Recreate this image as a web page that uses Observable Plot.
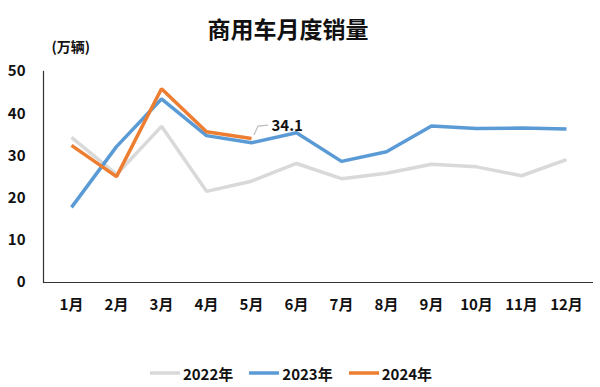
<!DOCTYPE html>
<html>
<head>
<meta charset="utf-8">
<script src="https://cdn.jsdelivr.net/npm/d3@7"></script>
<script src="https://cdn.jsdelivr.net/npm/@observablehq/plot@0.6"></script>
<style>
  html, body { margin: 0; padding: 0; background: #fff; }
  body { width: 600px; height: 387px; position: relative; overflow: hidden;
         font-family: "Noto Sans CJK SC", "Noto Sans", sans-serif; }
  #title { height: 35px; position: relative; }
  #title span { position: absolute; left: 0; width: 576px; top: 14px; text-align: center;
                font-weight: bold; font-size: 23px; line-height: 28px; color: #111; }
  #legend { position: absolute; left: 0; top: 362px; width: 582px; height: 22px;
            display: flex; justify-content: center; align-items: center;
            font-weight: bold; font-size: 15px; color: #111; }
  #legend .item { display: flex; align-items: center; margin: 0 8px; }
  #legend svg { margin-right: 3px; }
</style>
</head>
<body>
<div id="title"><span>商用车月度销量</span></div>
<div id="chart"></div>
<div id="legend"></div>
<script>
const months = ["1月","2月","3月","4月","5月","6月","7月","8月","9月","10月","11月","12月"];
const series = ["2022年","2023年","2024年"];
const colors = ["#d9d9d9","#5b9bd5","#ed7d31"];
const v2022 = [34.4, 25.6, 37.0, 21.6, 24.0, 28.2, 24.6, 25.9, 28.0, 27.4, 25.3, 29.1];
const v2023 = [17.8, 32.2, 43.5, 34.8, 33.1, 35.5, 28.7, 31.0, 37.1, 36.5, 36.6, 36.4];
const v2024 = [32.5, 25.1, 45.9, 35.7, 34.1];
const yTicks = [0, 10, 20, 30, 40, 50];
const labelMonth = "5月";
const labelValue = 34.1;

const rows = [];
[v2022, v2023, v2024].forEach((vals, s) => {
  vals.forEach((v, i) => rows.push({month: months[i], value: v, series: series[s]}));
});

const leader = (index, scales) => {
  const x0 = scales.x(labelMonth), y0 = scales.y(labelValue);
  const g = d3.create("svg:g");
  g.append("path")
    .attr("d", `M${x0 + 3},${y0 - 3}L${x0 + 7},${y0 - 12}L${x0 + 17},${y0 - 13}`)
    .attr("fill", "none").attr("stroke", "#bfbfbf").attr("stroke-width", 1.2);
  return g.node();
};

const plot = Plot.plot({
  width: 600,
  height: 300,
  marginTop: 36,
  marginBottom: 53,
  marginLeft: 43,
  marginRight: 7,
  style: {fontFamily: '"Noto Sans CJK SC", "Noto Sans", sans-serif', fontWeight: "bold", fontSize: "14px", color: "#111"},
  x: {type: "point", domain: months, padding: 0.5, label: null},
  y: {domain: [0, 50], ticks: yTicks, label: null},
  color: {domain: series, range: colors},
  marks: [
    Plot.axisX({tickSize: 0, tickPadding: 17, fontSize: 15, fontWeight: "bold"}),
    Plot.axisY({ticks: yTicks, tickSize: 0, tickPadding: 18, fontSize: 15, fontWeight: "bold"}),
    Plot.frame({anchor: "left", stroke: "#333", strokeWidth: 1.2}),
    Plot.ruleY([0], {stroke: "#333", strokeWidth: 1.2}),
    Plot.line(rows, {x: "month", y: "value", z: "series", stroke: "series",
      strokeWidth: 3.5, strokeLinejoin: "miter", strokeLinecap: "butt"}),
    leader,
    Plot.text([labelValue], {x: () => labelMonth, y: d => d, text: d => d.toFixed(1),
      dx: 20, dy: -12, textAnchor: "start", fontSize: 15, fontWeight: "bold", fill: "#111"}),
    Plot.text(["(万辆)"], {frameAnchor: "top-left", text: d => d, dx: 8, dy: -29,
      textAnchor: "start", fontSize: 14, fontWeight: "bold", fill: "#111"})
  ]
});
document.getElementById("chart").appendChild(plot);

const legend = document.getElementById("legend");
series.forEach((s, i) => {
  const item = document.createElement("div");
  item.className = "item";
  item.innerHTML = `<svg width="30" height="6"><line x1="0" y1="3" x2="30" y2="3" stroke="${colors[i]}" stroke-width="3.5"/></svg><span>${s}</span>`;
  legend.appendChild(item);
});
</script>
</body>
</html>
